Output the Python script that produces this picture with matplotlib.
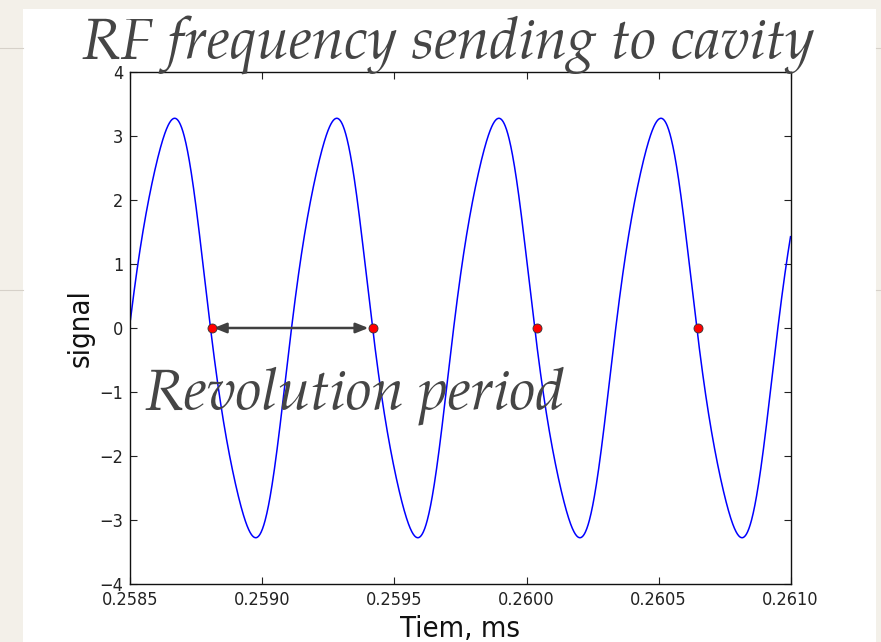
import numpy as np
import matplotlib
matplotlib.use('Agg')
import matplotlib.pyplot as plt
from matplotlib.patches import Rectangle
from matplotlib.lines import Line2D

plt.rcParams['font.family'] = ['DejaVu Sans']
plt.rcParams['font.stretch'] = 'condensed'
plt.rcParams['axes.unicode_minus'] = True

# RF signal (time in ms)
t_start = 0.2585
t_end = 0.2610
rf_amplitude = 3.244
rf_period = 0.000614        # one revolution
rf_phase_time = 0.25850076  # start of a period of the fundamental
rf_skew = 0.0485            # small 3rd harmonic, crests sit a bit late

# red markers at the falling zero crossings
marker_t = [0.2588076, 0.2594197, 0.2600386, 0.2606496]
marker_v = [0, 0, 0, 0]

x_ticks = [0.2585, 0.2590, 0.2595, 0.2600, 0.2605, 0.2610]
x_ticklabels = ['0.2585', '0.2590', '0.2595', '0.2600', '0.2605', '0.2610']
y_ticks = [-4, -3, -2, -1, 0, 1, 2, 3, 4]

t = np.linspace(t_start, t_end, 2000)
theta = 2 * np.pi * (t - rf_phase_time) / rf_period
signal = rf_amplitude * (np.sin(theta) + rf_skew * np.cos(3 * theta))

fig = plt.figure(figsize=(8.81, 6.42), dpi=100)
fig.patch.set_facecolor('#f3f0e9')

# slide background: white panel and faint rule lines
fig.patches.append(Rectangle((0.0261, 0.0), 0.9682, 0.986, transform=fig.transFigure,
                             facecolor='white', edgecolor='none', zorder=-10))
for yy in [0.9252, 0.5483]:
    fig.lines.append(Line2D([0.0, 0.0261], [yy, yy], transform=fig.transFigure, color='#d6d1c9', lw=0.8, zorder=-5))
    fig.lines.append(Line2D([0.9943, 1.0], [yy, yy], transform=fig.transFigure, color='#d6d1c9', lw=0.8, zorder=-5))

ax = fig.add_axes([0.1481, 0.0903, 0.7492, 0.7976])
ax.plot(t, signal, color='#0000ff', lw=1.1, zorder=2)
ax.plot(marker_t, marker_v, 'o', color='red', markeredgecolor='#333333', markeredgewidth=0.6,
        markersize=6.5, zorder=4)
ax.annotate('', xy=(marker_t[1], 0), xytext=(marker_t[0], 0),
            arrowprops=dict(arrowstyle='<|-|>,head_length=0.75,head_width=0.3', color='#404040',
                            lw=1.8, shrinkA=1.5, shrinkB=3.5, mutation_scale=10), zorder=3)

ax.set_xlim(t_start, t_end)
ax.set_ylim(-4, 4)
ax.set_xticks(x_ticks)
ax.set_xticklabels(x_ticklabels)
ax.set_yticks(y_ticks)
ax.tick_params(direction='in', top=True, right=True, length=5, width=0.8, labelsize=13,
               colors='#222222', pad=5)
for s in ax.spines.values():
    s.set_linewidth(1.0)
    s.set_color('#111111')

ax.set_xlabel('Tiem, ms', fontsize=21, color='#111111', labelpad=4)
ax.set_ylabel('signal', fontsize=21, color='#111111')
ax.yaxis.set_label_coords(-0.054, 0.5)

ax.text(0.258555, -1.25, 'Revolution period', family='TeX Gyre Pagella', style='italic',
        fontsize=42, color='#454545', ha='left', va='baseline', zorder=6)
fig.text(0.509, 0.9097, 'RF frequency sending to cavity', family='TeX Gyre Pagella', style='italic',
         fontsize=42, color='#454545', ha='center', va='baseline', zorder=6)

fig.savefig('out.png', dpi=100, facecolor=fig.get_facecolor())
